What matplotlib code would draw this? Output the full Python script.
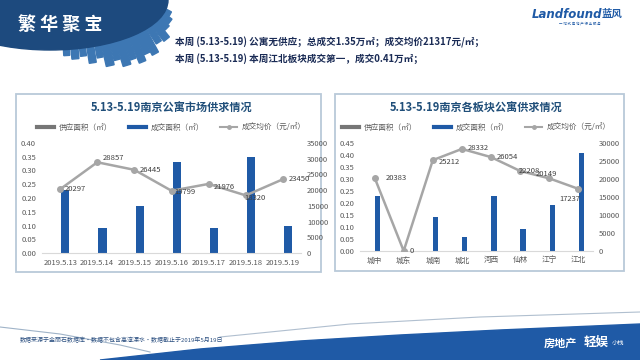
import numpy as np
import matplotlib.pyplot as plt
from matplotlib.patches import Rectangle, Ellipse, Polygon
from matplotlib.lines import Line2D

plt.rcParams['font.family'] = ['Noto Sans CJK SC', 'DejaVu Sans']

# daily apartment market, 5.13-5.19
days = ["2019.5.13", "2019.5.14", "2019.5.15", "2019.5.16",
        "2019.5.17", "2019.5.18", "2019.5.19"]
day_supply = [0, 0, 0, 0, 0, 0, 0]
day_area = [0.23, 0.09, 0.17, 0.33, 0.09, 0.35, 0.10]
day_price = [20297, 28857, 26445, 19799, 21976, 18320, 23450]

# by district
districts = ["城中", "城东", "城南", "城北", "河西", "仙林", "江宁", "江北"]
district_supply = [0, 0, 0, 0, 0, 0, 0, 0]
district_area = [0.23, 0, 0.14, 0.06, 0.23, 0.09, 0.19, 0.41]
district_price = [20383, 0, 25212, 28332, 26054, 22208, 20149, 17237]

headline_1 = "本周 (5.13-5.19) 公寓无供应；总成交1.35万㎡；成交均价21317元/㎡；"
headline_2 = "本周 (5.13-5.19) 本周江北板块成交第一，成交0.41万㎡；"
footnote = "数据来源于金丽石数据库•数据不包含高淳溧水•数据截止于2019年5月19日"

BLUE = "#1f5aa6"
NAVY = "#1d4a7e"
GREY = "#a6a6a6"
TXT = "#595959"

fig = plt.figure(figsize=(6.4, 3.6), dpi=100)

# background decorations in pixel coords
bg = fig.add_axes([0, 0, 1, 1])
bg.set_xlim(0, 640)
bg.set_ylim(360, 0)
bg.axis("off")

# header badge with a skyline growing out of its rim
cx, cy, A, B = 50, 0, 118, 50
bg.add_patch(Ellipse((cx, cy), 2 * A, 2 * B, color=NAVY, zorder=2))
for t, L, w in [(82, 10, 6), (78, 14, 7), (74, 12, 6), (70, 20, 7), (66, 16, 6),
                (62, 26, 8), (58, 22, 6), (54, 30, 8), (50, 26, 6), (46, 32, 7),
                (42, 26, 6), (38, 30, 7), (33, 22, 6), (28, 24, 7), (23, 16, 6),
                (18, 14, 6), (13, 10, 5)]:
    r = np.radians(t)
    base = np.array([cx + A * np.cos(r), cy + B * np.sin(r)])
    n = np.array([np.cos(r) / A, np.sin(r) / B])
    n = n / np.hypot(*n)
    p = np.array([-n[1], n[0]])
    base = base - 4 * n
    pts = [base - p * w / 2, base + p * w / 2,
           base + p * w / 2 + n * L, base - p * w / 2 + n * L]
    bg.add_patch(Polygon(pts, color="#3d77b3", zorder=1))
bg.text(60, 24, "繁 华 聚 宝", color="white", fontsize=13, fontweight="bold",
        ha="center", va="center", zorder=3)

bg.text(567, 14, "Landfound", color=BLUE, fontsize=8.5, fontweight="bold",
        style="italic", ha="center", va="center", family="DejaVu Sans")
bg.text(612, 14, "蓝风", color=BLUE, fontsize=7.5, fontweight="bold", ha="center", va="center")
bg.text(580, 23, "一 站 式 房 地 产 行 业 服 务", color=BLUE, fontsize=2.5, ha="center", va="center")

bg.text(175, 42, headline_1, color="#1a2b55", fontsize=6.9, fontweight="bold", va="center")
bg.text(175, 59, headline_2, color="#1a2b55", fontsize=6.9, fontweight="bold", va="center")

# panel frames
bg.add_patch(Rectangle((16, 94), 305, 178, fill=False, ec="#b9c9d9", lw=1.3))
bg.add_patch(Rectangle((335, 94), 289, 177, fill=False, ec="#b9c9d9", lw=1.3))

# bottom wave
wx = np.array([100, 200, 300, 400, 500, 640, 640, 100])
wy = np.array([360, 349, 341, 335, 330, 324, 360, 360])
bg.add_patch(Polygon(np.column_stack([wx, wy]), color=BLUE, zorder=1))
bg.plot([0, 60, 120, 150], [327, 334, 345, 352], color="#9fb3c8", lw=0.8)
bg.plot([220, 350, 480, 640], [337, 324, 317, 312], color="#b0bfcf", lw=0.8)
bg.text(20, 340, footnote, color="#2b4f80", fontsize=4.3, va="center")
bg.text(560, 343, "房地产", color="white", fontsize=8, fontweight="bold", ha="center", va="center")
bg.text(596, 342, "轻娱", color="white", fontsize=9, fontweight="bold", ha="center", va="center")
bg.text(618, 343, "小栈", color="white", fontsize=4.5, ha="center", va="center")


def draw_panel(rect, cats, supply, area, price, ylim, ystep, y2lim, y2step,
               title, title_y, leg_y, bw, off, label_pos):
    ax = fig.add_axes(rect)
    x = np.arange(len(cats))
    ax.bar(x - off, supply, bw, color="#7f7f7f", zorder=2)
    ax.bar(x + off, area, bw, color=BLUE, zorder=2)
    ax.set_xlim(-0.5, len(cats) - 0.5)
    ax.set_ylim(0, ylim)
    yt = np.arange(0, ylim + 1e-9, ystep)
    ax.set_yticks(yt)
    ax.set_yticklabels([f"{v:.2f}" for v in yt])
    ax.set_xticks(x)
    ax.set_xticklabels(cats)
    ax.tick_params(length=0, labelsize=5.5, colors=TXT, pad=4)
    for s in ["top", "left", "right"]:
        ax.spines[s].set_visible(False)
    ax.spines["bottom"].set_color("#d9d9d9")
    ax.patch.set_alpha(0)

    ax2 = ax.twinx()
    ax2.plot(x, price, color=GREY, lw=1.8, marker="o", ms=4, zorder=3)
    ax2.set_ylim(0, y2lim)
    ax2.set_yticks(np.arange(0, y2lim + 1, y2step))
    ax2.tick_params(length=0, labelsize=5.5, colors=TXT, pad=4)
    for s in ax2.spines.values():
        s.set_visible(False)
    for xi, p, (dx, dy, ha) in zip(x, price, label_pos):
        ax2.annotate(str(p), (xi, p), xytext=(dx, dy), textcoords="offset points",
                     fontsize=5.5, color="#404040", ha=ha, va="center", zorder=4)

    handles = [Line2D([], [], color="#767676", lw=3),
               Line2D([], [], color=BLUE, lw=3),
               Line2D([], [], color=GREY, lw=1.5, marker="o", ms=2.5)]
    labels = ["供应面积（㎡）", "成交面积（㎡）", "成交均价（元/㎡）"]
    ax.legend(handles, labels, ncol=3, frameon=False, fontsize=5.5,
              loc="center", bbox_to_anchor=(0.5, leg_y), handlelength=2.2,
              columnspacing=2.2, handletextpad=0.6, labelcolor=TXT)
    ax.text(0.5, title_y, title, transform=ax.transAxes, fontsize=8,
            fontweight="bold", color="#1f4e79", ha="center", va="center")
    return ax


draw_panel([0.065, 0.297, 0.406, 0.306], days, day_supply, day_area, day_price,
           0.40, 0.05, 35000, 5000, "5.13-5.19南京公寓市场供求情况", 1.318, 1.136,
           0.22, 0.14,
           [(3, 0, "left"), (4, 3, "left"), (4, 0, "left"), (2, -1, "left"),
            (4, -2, "left"), (-1, -2, "left"), (4, 0, "left")])

draw_panel([0.5625, 0.303, 0.364, 0.300], districts, district_supply, district_area,
           district_price, 0.45, 0.05, 30000, 5000, "5.13-5.19南京各板块公寓供求情况",
           1.324, 1.139, 0.18, 0.10,
           [(8, 0, "left"), (4, 0, "left"), (4, -1, "left"), (4, 1, "left"),
            (4, 0, "left"), (-1, 0, "left"), (-10, 3, "left"), (-6, -7, "center")])

fig.savefig("out.png", dpi=100)
